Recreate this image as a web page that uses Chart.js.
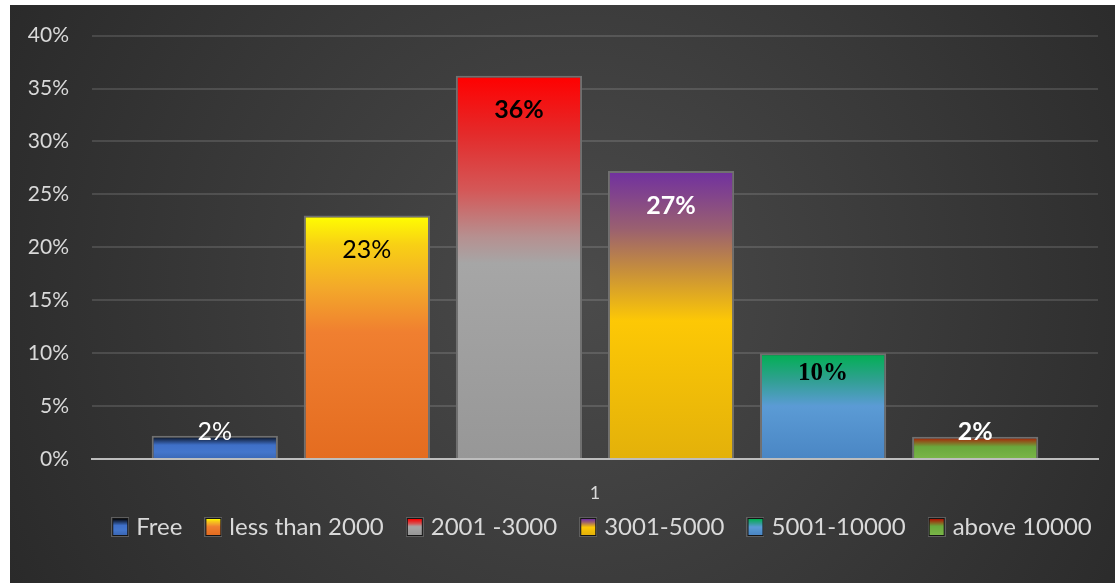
<!DOCTYPE html>
<html>
<head>
<meta charset="utf-8">
<script src="https://cdn.jsdelivr.net/npm/chart.js@4"></script>
<style>
  html, body { margin: 0; padding: 0; background: #fff; }
  #wrap { width: 1115px; height: 583px; }
</style>
</head>
<body>
<div id="wrap"><canvas id="chart" width="1115" height="583"></canvas></div>
<script>
var categories = ['1'];
var seriesNames = ['Free', 'less than 2000', '2001 -3000', '3001-5000', '5001-10000', 'above 10000'];
var seriesValues = [0.022, 0.23, 0.362, 0.272, 0.10, 0.021];
var tickLabels = ['0%', '5%', '10%', '15%', '20%', '25%', '30%', '35%', '40%'];

// gradient stops per series, top of bar (0) to base (1)
var fills = [
    [[0, '#05080f'], [0.4, '#3f70c8'], [0.7, '#4476cc'], [1, '#3a67b5']],
    [[0, '#ffff00'], [0.12, '#f8d015'], [0.3, '#f3a82a'], [0.48, '#f07f30'], [1, '#e46c20']],
    [[0, '#ff0000'], [0.15, '#e42a2a'], [0.3, '#d45858'], [0.42, '#b69090'], [0.49, '#a6a6a6'], [1, '#979797']],
    [[0, '#7030a0'], [0.2, '#9a6070'], [0.35, '#c8903a'], [0.52, '#fdc805'], [1, '#e3b10a']],
    [[0, '#00b050'], [0.25, '#2fa090'], [0.5, '#5b9bd5'], [1, '#4a86c4']],
    [[0, '#b01000'], [0.45, '#6aa83c'], [1, '#7ab648']]
];

var labelStyles = [
    { color: '#ffffff', weight: 'normal', family: 'Lato', dy: -4 },
    { color: '#000000', weight: 'normal', family: 'Lato', dy: 34 },
    { color: '#000000', weight: 'bold', family: 'Lato', dy: 34 },
    { color: '#ffffff', weight: 'bold', family: 'Lato', dy: 35 },
    { color: '#000000', weight: 'bold', family: 'Liberation Serif', dy: 20 },
    { color: '#ffffff', weight: 'bold', family: 'Lato', dy: -5 }
];

var legendShift = 42;
var legendPadding = 11;
var legendFontSize = 24;

function addStops(g, stops) {
    stops.forEach(function(s) { g.addColorStop(s[0], s[1]); });
    return g;
}

function barFill(stops) {
    return function(context) {
        var chart = context.chart;
        if (!chart.chartArea || context.raw === undefined) {
            return stops[stops.length - 1][1];
        }
        var y = chart.scales.y;
        var top = y.getPixelForValue(context.raw);
        var base = y.getPixelForValue(0);
        return addStops(chart.ctx.createLinearGradient(0, top, 0, base), stops);
    };
}

function legendBox(stops) {
    var c = document.createElement('canvas');
    c.width = 18;
    c.height = 20;
    var x = c.getContext('2d');
    x.fillStyle = '#5e5e5e';
    x.fillRect(0, 0, 18, 20);
    x.fillStyle = '#151515';
    x.fillRect(1, 1, 16, 18);
    x.fillStyle = addStops(x.createLinearGradient(0, 2, 0, 18), stops);
    x.fillRect(2, 2, 14, 16);
    return c;
}

var legendBoxes = fills.map(function(f) { return legendBox(f); });

var backgroundPlugin = {
    id: 'background',
    beforeDraw: function(chart) {
        var ctx = chart.ctx;
        ctx.save();
        ctx.fillStyle = '#ffffff';
        ctx.fillRect(0, 0, chart.width, chart.height);
        var g = ctx.createRadialGradient(580, 290, 0, 580, 290, 640);
        g.addColorStop(0, '#4b4b4b');
        g.addColorStop(1, '#2a2a2a');
        ctx.fillStyle = g;
        ctx.fillRect(10, 5, chart.width - 10, chart.height - 5);
        ctx.restore();
    }
};

var valueLabelPlugin = {
    id: 'valueLabels',
    afterDatasetsDraw: function(chart) {
        var ctx = chart.ctx;
        ctx.save();
        ctx.textAlign = 'center';
        ctx.textBaseline = 'middle';
        chart.data.datasets.forEach(function(ds, i) {
            var bar = chart.getDatasetMeta(i).data[0];
            var st = labelStyles[i];
            ctx.font = st.weight + ' 25px "' + st.family + '"';
            ctx.fillStyle = st.color;
            ctx.fillText(Math.round(ds.data[0] * 100) + '%', bar.x, bar.y + st.dy);
        });
        ctx.restore();
    }
};

// moves the legend to where Excel put it and paints the gradient keys
var legendKeyPlugin = {
    id: 'legendKeys',
    afterUpdate: function(chart) {
        var legend = chart.legend;
        legend.left += legendShift;
        legend.right += legendShift;
        legend.adjustHitBoxes();
    },
    afterDraw: function(chart) {
        var ctx = chart.ctx;
        var cy = chart.legend.top + legendPadding + legendFontSize / 2;
        chart.legend.legendHitBoxes.forEach(function(box, i) {
            ctx.drawImage(legendBoxes[i], box.left + 11, cy - 10, 18, 20);
        });
    }
};

var datasets = seriesNames.map(function(name, i) {
    return {
        label: name,
        data: [seriesValues[i]],
        backgroundColor: barFill(fills[i]),
        borderColor: '#707070',
        borderWidth: 2,
        barPercentage: 0.83,
        categoryPercentage: 0.907
    };
});

new Chart(document.getElementById('chart'), {
    type: 'bar',
    data: {
        labels: categories,
        datasets: datasets
    },
    options: {
        responsive: false,
        animation: false,
        layout: {
            padding: { left: 10, right: 17, top: 35, bottom: 34 }
        },
        scales: {
            x: {
                z: 1,
                afterFit: function(scale) { scale.height = 45; },
                grid: { display: false },
                border: { color: '#bdbdbd', width: 2 },
                ticks: {
                    color: '#d9d9d9',
                    font: { family: 'Lato', size: 18 },
                    padding: 15
                }
            },
            y: {
                min: 0,
                max: 0.4,
                afterFit: function(scale) { scale.width = 82; },
                border: { display: false },
                grid: {
                    color: 'rgba(255,255,255,0.13)',
                    lineWidth: 2,
                    drawTicks: false
                },
                ticks: {
                    stepSize: 0.05,
                    color: '#d9d9d9',
                    font: { family: 'Lato', size: 21 },
                    padding: 23,
                    callback: function(value, index) { return tickLabels[index]; }
                }
            }
        },
        plugins: {
            legend: {
                position: 'bottom',
                labels: {
                    boxWidth: 24,
                    boxHeight: 19,
                    color: '#d9d9d9',
                    font: { family: 'Lato', size: legendFontSize },
                    padding: legendPadding,
                    generateLabels: function(chart) {
                        return Chart.defaults.plugins.legend.labels.generateLabels(chart).map(function(item) {
                            item.fillStyle = 'rgba(0,0,0,0)';
                            item.strokeStyle = 'rgba(0,0,0,0)';
                            item.lineWidth = 0;
                            return item;
                        });
                    }
                }
            },
            tooltip: { enabled: false }
        }
    },
    plugins: [backgroundPlugin, valueLabelPlugin, legendKeyPlugin]
});
</script>
</body>
</html>
